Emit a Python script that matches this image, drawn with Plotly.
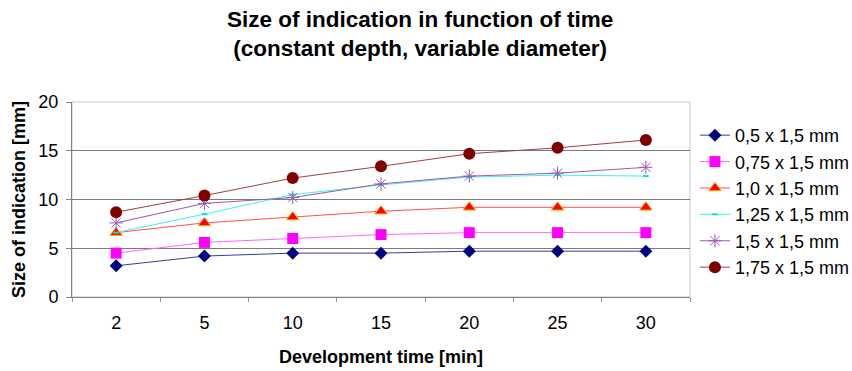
import plotly.graph_objects as go

times = ["2", "5", "10", "15", "20", "25", "30"]
series_names = ["0,5 x 1,5 mm", "0,75 x 1,5 mm", "1,0 x 1,5 mm",
                "1,25 x 1,5 mm", "1,5 x 1,5 mm", "1,75 x 1,5 mm"]
s_05 = [3.2, 4.2, 4.5, 4.5, 4.7, 4.7, 4.7]
s_075 = [4.5, 5.6, 6.0, 6.4, 6.6, 6.6, 6.6]
s_10 = [6.6, 7.6, 8.2, 8.8, 9.2, 9.2, 9.2]
s_125 = [6.6, 8.5, 10.5, 11.5, 12.3, 12.5, 12.4]
s_15 = [7.6, 9.6, 10.2, 11.6, 12.4, 12.7, 13.3]
s_175 = [8.7, 10.4, 12.2, 13.4, 14.7, 15.3, 16.1]
values = [s_05, s_075, s_10, s_125, s_15, s_175]

title_text = "<b>Size of indication in function of time<br>(constant depth, variable diameter)</b>"
x_title = "<b>Development time [min]</b>"
y_title = "<b>Size of indication [mm]</b>"

styles = [
    dict(line=dict(color="#3a3aa0", width=1), marker=dict(symbol="diamond", size=10, color="#000080")),
    dict(line=dict(color="#FF66FF", width=1), marker=dict(symbol="square", size=11, color="#FF00FF")),
    dict(line=dict(color="#FF5050", width=1), marker=dict(symbol="triangle-up", size=11, color="#FF0000",
                                                        line=dict(color="#FFB000", width=1))),
    dict(line=dict(color="#40F0F0", width=1), marker=dict(symbol="line-ew", size=4, color="#00E0E0",
                                                        line=dict(color="#00E0E0", width=2))),
    dict(line=dict(color="#9a5ab0", width=1), marker=dict(symbol="asterisk-open", size=11,
                                                        line=dict(color="#8a3a9a", width=1))),
    dict(line=dict(color="#a04040", width=1), marker=dict(symbol="circle", size=12, color="#800000")),
]

fig = go.Figure()
for name, vals, st in zip(series_names, values, styles):
    fig.add_trace(go.Scatter(x=times, y=vals, name=name, mode="lines+markers", **st))

font_family = "Liberation Sans, Arial, sans-serif"
fig.update_layout(
    width=852, height=371,
    margin=dict(l=72, r=162, t=102, b=74, autoexpand=False),
    paper_bgcolor="white", plot_bgcolor="white",
    font=dict(family=font_family, size=18, color="#000000"),
    legend=dict(x=1.008, xanchor="left", xref="paper", y=0.49, yanchor="middle",
                font=dict(size=18, family=font_family), tracegroupgap=0,
                itemsizing="trace", bgcolor="rgba(0,0,0,0)"),
    xaxis=dict(type="category", range=[-0.5, 6.5], tickson="boundaries",
               ticks="outside", ticklen=4, tickcolor="#909090",
               showline=True, linecolor="#808080", linewidth=1, mirror=False,
               showgrid=False, tickfont=dict(size=18), ticklabelstandoff=9,
               title=dict(text=x_title, font=dict(size=18), standoff=18)),
    yaxis=dict(range=[0, 20], tickvals=[0, 5, 10, 15, 20], ticks="outside", ticklen=5,
               tickcolor="#808080", showline=True, linecolor="#808080", linewidth=1,
               showgrid=True, gridcolor="#7a7a7a", gridwidth=1, zeroline=False,
               tickfont=dict(size=18), ticklabelstandoff=4,
               title=dict(text=y_title, font=dict(size=18), standoff=8)),
)
fig.add_annotation(text=title_text, xref="paper", yref="paper",
                   x=(420 - 72) / 618, y=(297 - 34) / 195, xanchor="center", yanchor="middle",
                   showarrow=False, font=dict(size=22.5, family=font_family, color="#000000"))
# light border on top and right of plot area
fig.add_shape(type="rect", xref="paper", yref="paper", x0=0, y0=0, x1=1, y1=1,
              line=dict(color="#C8C8C8", width=1), layer="below")

fig.write_html("out.html")
